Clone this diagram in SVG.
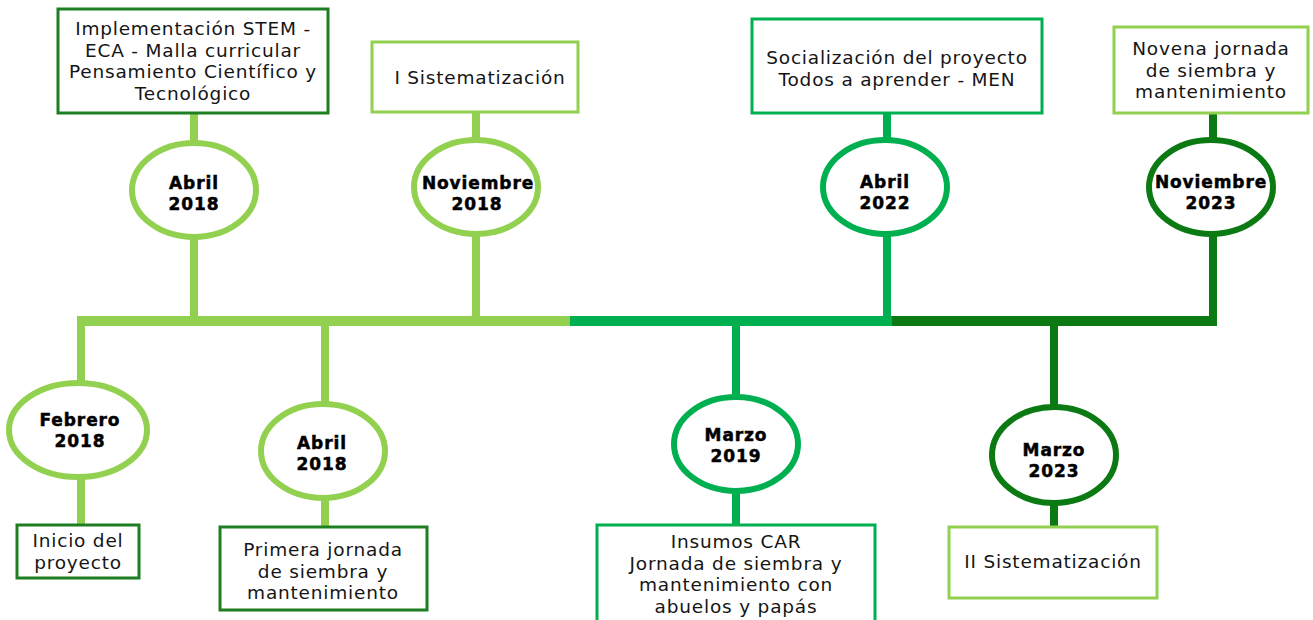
<svg xmlns="http://www.w3.org/2000/svg" width="1313" height="620" viewBox="0 0 1313 620">
<style>
.bg{fill:#ffffff}
.box{fill:#ffffff;stroke-width:3}
.bd{stroke:#1E7E22}
.bm{stroke:#00B050}
.bl{stroke:#92D050}
.ell{fill:#ffffff;stroke-width:6}
.el{stroke:#92D050}
.em{stroke:#00B050}
.ed{stroke:#0B7A12}
.t{font-family:"DejaVu Sans","Noto Sans",sans-serif;font-size:18.5px;fill:#151515;text-anchor:middle;letter-spacing:0.8px}
.d{font-family:"DejaVu Sans","Liberation Sans",sans-serif;font-weight:bold;font-size:17px;fill:#000000;stroke:#000000;stroke-width:0.5;text-anchor:middle;letter-spacing:0.9px}
.cl{stroke:#92D050;stroke-width:8;fill:none}
.cm{stroke:#00B050;stroke-width:8;fill:none}
.cd{stroke:#0B7A12;stroke-width:8;fill:none}
</style>
<rect class="bg" x="0" y="0" width="1313" height="620"/>
<g id="connectors">
<rect x="77" y="316" width="493" height="10" fill="#92D050"/>
<rect x="570" y="316" width="322" height="10" fill="#00B050"/>
<rect x="892" y="316" width="325" height="10" fill="#0B7A12"/>
<line class="cl" x1="194" y1="113" x2="194" y2="321"/>
<line class="cl" x1="476" y1="112" x2="476" y2="321"/>
<line class="cm" x1="887" y1="113" x2="887" y2="326"/>
<line class="cd" x1="1213" y1="113" x2="1213" y2="326"/>
<line class="cl" x1="81" y1="316" x2="81" y2="525"/>
<line class="cl" x1="325" y1="321" x2="325" y2="527"/>
<line class="cm" x1="736" y1="321" x2="736" y2="525"/>
<line class="cd" x1="1054" y1="321" x2="1054" y2="527"/>
</g>
<g id="n-abril-2018-top">
<rect class="box bd" x="58" y="9" width="270" height="104"/>
<text class="t" x="193" y="35">Implementación STEM -</text>
<text class="t" x="193" y="56.5">ECA - Malla curricular</text>
<text class="t" x="193" y="78">Pensamiento Científico y</text>
<text class="t" x="193" y="99.5">Tecnológico</text>
<ellipse class="ell el" cx="194" cy="190" rx="62" ry="47"/>
<text class="d" x="194" y="189">Abril</text>
<text class="d" x="194" y="210">2018</text>
</g>
<g id="n-noviembre-2018">
<rect class="box bl" x="372" y="42" width="206" height="70"/>
<text class="t" x="480" y="84">I Sistematización</text>
<ellipse class="ell el" cx="476" cy="187" rx="62" ry="47"/>
<text class="d" x="478" y="189">Noviembre</text>
<text class="d" x="477" y="210">2018</text>
</g>
<g id="n-abril-2022">
<rect class="box bm" x="752" y="19" width="290" height="94"/>
<text class="t" x="897" y="64">Socialización del proyecto</text>
<text class="t" x="897" y="85.5">Todos a aprender - MEN</text>
<ellipse class="ell em" cx="885" cy="187" rx="62" ry="47"/>
<text class="d" x="885" y="188">Abril</text>
<text class="d" x="885" y="209">2022</text>
</g>
<g id="n-noviembre-2023">
<rect class="box bl" x="1114" y="27" width="194" height="86"/>
<text class="t" x="1211" y="55">Novena jornada</text>
<text class="t" x="1211" y="76.5">de siembra y</text>
<text class="t" x="1211" y="98">mantenimiento</text>
<ellipse class="ell ed" cx="1211" cy="187" rx="62" ry="47"/>
<text class="d" x="1211" y="188">Noviembre</text>
<text class="d" x="1211" y="209">2023</text>
</g>
<g id="n-febrero-2018">
<ellipse class="ell el" cx="78" cy="430" rx="69" ry="47"/>
<text class="d" x="80" y="426">Febrero</text>
<text class="d" x="80" y="447">2018</text>
<rect class="box bd" x="17" y="525" width="122" height="53"/>
<text class="t" x="78" y="547">Inicio del</text>
<text class="t" x="78" y="568.5">proyecto</text>
</g>
<g id="n-abril-2018-bottom">
<ellipse class="ell el" cx="323" cy="451" rx="62" ry="47"/>
<text class="d" x="322" y="449">Abril</text>
<text class="d" x="322" y="470">2018</text>
<rect class="box bd" x="220" y="527" width="207" height="83"/>
<text class="t" x="323" y="556">Primera jornada</text>
<text class="t" x="323" y="577.5">de siembra y</text>
<text class="t" x="323" y="599">mantenimiento</text>
</g>
<g id="n-marzo-2019">
<ellipse class="ell em" cx="736" cy="444" rx="62" ry="47"/>
<text class="d" x="736" y="441">Marzo</text>
<text class="d" x="736" y="462">2019</text>
<rect class="box bm" x="597" y="525" width="278" height="100"/>
<text class="t" x="736" y="548">Insumos CAR</text>
<text class="t" x="736" y="569.5">Jornada de siembra y</text>
<text class="t" x="736" y="591">mantenimiento con</text>
<text class="t" x="736" y="612.5">abuelos y papás</text>
</g>
<g id="n-marzo-2023">
<ellipse class="ell ed" cx="1054" cy="455" rx="62" ry="48"/>
<text class="d" x="1054" y="456">Marzo</text>
<text class="d" x="1054" y="477">2023</text>
<rect class="box bl" x="949" y="527" width="208" height="71"/>
<text class="t" x="1053" y="568">II Sistematización</text>
</g>
</svg>
